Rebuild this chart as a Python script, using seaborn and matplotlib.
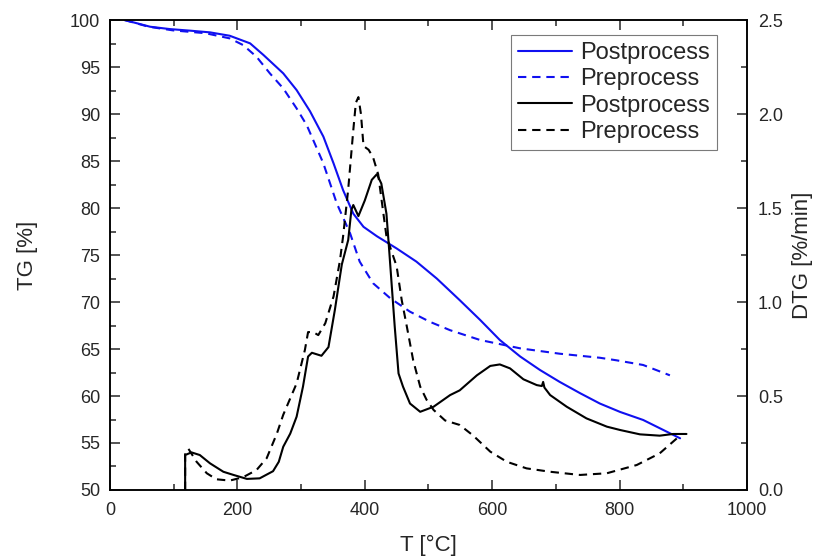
import matplotlib
matplotlib.use("Agg")
import matplotlib.pyplot as plt
import seaborn as sns
import pandas as pd
from matplotlib.ticker import MultipleLocator, FormatStrFormatter

sns.set_style("ticks")
plt.rcParams['font.family'] = ['Liberation Sans', 'DejaVu Sans']

# TG curves (left axis, %)
tg_post_T = [23, 63, 94, 126, 157, 188, 220, 241, 272, 293, 314, 335, 351, 366, 382, 398, 419,
             450, 481, 513, 549, 581, 612, 644, 675, 706, 738, 769, 801, 837, 895]
tg_post = [100.0, 99.29, 99.04, 98.87, 98.69, 98.33, 97.52, 96.28, 94.33, 92.55, 90.3, 87.6,
           84.75, 81.9, 79.4, 78.0, 77.0, 75.7, 74.3, 72.5, 70.2, 68.1, 65.96, 64.2, 62.77,
           61.5, 60.3, 59.2, 58.3, 57.45, 55.5]

tg_pre_T = [23, 60, 99, 150, 188, 209, 230, 251, 272, 293, 309, 335, 356, 377, 392, 413, 440,
            471, 502, 534, 581, 644, 706, 769, 795, 837, 879]
tg_pre = [100.0, 99.3, 98.9, 98.6, 98.05, 97.34, 96.1, 94.33, 92.73, 90.6, 88.8, 84.75, 80.5,
          77.3, 74.3, 72.0, 70.4, 68.97, 67.9, 67.0, 65.96, 65.07, 64.5, 64.07, 63.8, 63.3, 62.2]

# DTG curves (right axis, %/min)
dtg_post_T = [118, 118, 128, 141, 157, 178, 194, 215, 235, 256, 265, 272, 283, 293, 303, 311,
              317, 332, 343, 353, 361, 364, 374, 379, 382, 390, 400, 411, 419, 426, 434, 438,
              441, 447, 453, 460, 471, 487, 508, 534, 549, 576, 597, 612, 628, 649, 670, 678,
              680, 682, 691, 717, 748, 780, 801, 832, 863, 884, 905]
dtg_post = [0.0, 0.186, 0.20, 0.186, 0.142, 0.097, 0.08, 0.059, 0.062, 0.10, 0.15, 0.23, 0.30,
            0.39, 0.55, 0.71, 0.73, 0.714, 0.76, 0.957, 1.135, 1.2, 1.33, 1.49, 1.516, 1.457,
            1.54, 1.65, 1.68, 1.63, 1.47, 1.29, 1.15, 0.87, 0.62, 0.55, 0.46, 0.416, 0.443,
            0.505, 0.53, 0.61, 0.66, 0.668, 0.647, 0.589, 0.558, 0.553, 0.575, 0.545, 0.505,
            0.443, 0.381, 0.337, 0.319, 0.296, 0.289, 0.298, 0.298]

dtg_pre_T = [118, 118, 123, 136, 152, 167, 188, 209, 230, 246, 262, 272, 293, 306, 311, 319,
             327, 338, 351, 361, 366, 374, 382, 386, 390, 394, 398, 406, 413, 421, 434, 445,
             450, 458, 466, 476, 487, 497, 508, 526, 549, 570, 597, 623, 654, 691, 738, 780,
             827, 863, 890]
dtg_pre = [0.0, 0.19, 0.22, 0.15, 0.089, 0.057, 0.05, 0.068, 0.106, 0.169, 0.30, 0.40, 0.567,
           0.745, 0.84, 0.84, 0.824, 0.887, 1.03, 1.22, 1.35, 1.60, 1.915, 2.06, 2.09, 2.00,
           1.83, 1.81, 1.77, 1.68, 1.35, 1.24, 1.19, 1.01, 0.87, 0.69, 0.55, 0.48, 0.426, 0.37,
           0.346, 0.29, 0.204, 0.15, 0.115, 0.097, 0.08, 0.089, 0.133, 0.195, 0.275]

df_tg_post = pd.DataFrame({"T": tg_post_T, "v": tg_post})
df_tg_pre = pd.DataFrame({"T": tg_pre_T, "v": tg_pre})
df_dtg_post = pd.DataFrame({"T": dtg_post_T, "v": dtg_post})
df_dtg_pre = pd.DataFrame({"T": dtg_pre_T, "v": dtg_pre})

fig = plt.figure(figsize=(8.17, 5.57), dpi=100)
ax = fig.add_axes([0.1346, 0.1203, 0.7797, 0.8437])
ax2 = ax.twinx()

blue = "#1010f0"
lw = 1.5
dash = (4, 2.8)
sns.lineplot(data=df_tg_post, x="T", y="v", ax=ax, color=blue, lw=lw, estimator=None, sort=False,
             label="Postprocess", legend=False)
sns.lineplot(data=df_tg_pre, x="T", y="v", ax=ax, color=blue, lw=lw, estimator=None, sort=False,
             label="Preprocess", legend=False)
ax.lines[-1].set_dashes(dash)
sns.lineplot(data=df_dtg_post, x="T", y="v", ax=ax2, color="black", lw=lw, estimator=None,
             sort=False, label="Postprocess", legend=False)
sns.lineplot(data=df_dtg_pre, x="T", y="v", ax=ax2, color="black", lw=lw, estimator=None,
             sort=False, label="Preprocess", legend=False)
ax2.lines[-1].set_dashes(dash)
for ln in ax.lines + ax2.lines:
    ln.set_solid_joinstyle("round")
    ln.set_dash_joinstyle("round")

ax.set_xlim(0, 1000)
ax.set_ylim(50, 100)
ax2.set_ylim(0, 2.5)

ax.xaxis.set_major_locator(MultipleLocator(200))
ax.xaxis.set_minor_locator(MultipleLocator(100))
ax.yaxis.set_major_locator(MultipleLocator(5))
ax.yaxis.set_minor_locator(MultipleLocator(2.5))
ax2.yaxis.set_major_locator(MultipleLocator(0.5))
ax2.yaxis.set_minor_locator(MultipleLocator(0.25))
ax2.yaxis.set_major_formatter(FormatStrFormatter('%.1f'))

ax.tick_params(which="both", direction="in", top=True, right=False, labelsize=13, width=1.1)
ax.tick_params(which="major", length=7)
ax.tick_params(which="minor", length=4)
ax.tick_params(axis="x", which="major", pad=9)
ax.tick_params(axis="y", which="major", pad=7)
ax2.tick_params(which="both", direction="in", labelsize=13, width=1.1)
ax2.tick_params(which="major", length=7, pad=8)
ax2.tick_params(which="minor", length=4)

for a in (ax, ax2):
    for s in a.spines.values():
        s.set_linewidth(1.1)
        s.set_color("black")

ax.set_xlabel("T [°C]", fontsize=16, labelpad=11)
ax.set_ylabel("TG [%]", fontsize=16, labelpad=23)
ax2.set_ylabel("DTG [%/min]", fontsize=16, labelpad=6)

handles = ax.get_lines() + ax2.get_lines()
labels = [h.get_label() for h in handles]
leg = ax.legend(handles, labels, loc="upper right", bbox_to_anchor=(0.953, 0.968),
                borderaxespad=0, fontsize=17, frameon=True, fancybox=False,
                handlelength=2.3, labelspacing=0.18, borderpad=0.3, handletextpad=0.35)
leg.get_frame().set_edgecolor("0.35")
leg.get_frame().set_linewidth(0.8)

fig.savefig("out.png", dpi=100)
